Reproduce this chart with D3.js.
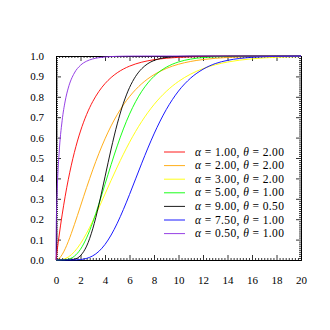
<!DOCTYPE html>
<html>
<head>
<meta charset="utf-8">
<script src="https://cdn.jsdelivr.net/npm/d3@7"></script>
<style>
  body { margin: 0; background: #fff; }
  text { font-family: "Liberation Serif", "DejaVu Serif", serif; }
</style>
</head>
<body>
<div id="chart"></div>
<script>
var xs = [0, 0.02, 0.05, 0.1, 0.25, 0.5, 0.75, 1, 1.5, 2, 2.5, 3, 3.5, 4, 4.5, 5, 5.5, 6, 6.5, 7, 7.5, 8, 8.5, 9, 9.5, 10, 11, 12, 13, 14, 16, 18, 20];

var labels = ["1.00|2.00", "2.00|2.00", "3.00|2.00", "5.00|1.00", "9.00|0.50", "7.50|1.00", "0.50|1.00"];
var colors = ["#ff0000", "#ffa500", "#ffff00", "#00ff00", "#000000", "#0000ff", "#8a2be2"];

var a1t2 = [0, 0.0100, 0.0247, 0.0488, 0.1175, 0.2212, 0.3127, 0.3935, 0.5276, 0.6321, 0.7135, 0.7769, 0.8262, 0.8647, 0.8946, 0.9179, 0.9361, 0.9502, 0.9612, 0.9698, 0.9765, 0.9817, 0.9857, 0.9889, 0.9913, 0.9933, 0.9959, 0.9975, 0.9985, 0.9991, 0.9997, 0.9999, 1.0];
var a2t2 = [0, 0, 0.0003, 0.0012, 0.0072, 0.0265, 0.0550, 0.0902, 0.1734, 0.2642, 0.3554, 0.4422, 0.5221, 0.5940, 0.6575, 0.7127, 0.7603, 0.8009, 0.8352, 0.8641, 0.8883, 0.9084, 0.9251, 0.9389, 0.9503, 0.9596, 0.9734, 0.9826, 0.9887, 0.9927, 0.9970, 0.9988, 0.9995];
var a3t2 = [0, 0, 0, 0, 0.0003, 0.0022, 0.0066, 0.0144, 0.0405, 0.0803, 0.1315, 0.1912, 0.2560, 0.3233, 0.3907, 0.4562, 0.5185, 0.5768, 0.6304, 0.6792, 0.7229, 0.7619, 0.7963, 0.8264, 0.8527, 0.8753, 0.9116, 0.9380, 0.9570, 0.9704, 0.9862, 0.9938, 0.9972];
var a5t1 = [0, 0, 0, 0, 0, 0.0002, 0.0011, 0.0037, 0.0186, 0.0527, 0.1088, 0.1847, 0.2746, 0.3712, 0.4679, 0.5595, 0.6425, 0.7149, 0.7763, 0.8270, 0.8679, 0.9004, 0.9256, 0.9450, 0.9597, 0.9707, 0.9849, 0.9924, 0.9963, 0.9982, 0.9996, 0.9999, 1.0];
var a9t05 = [0, 0, 0, 0, 0, 0, 0, 0.0002, 0.0038, 0.0214, 0.0681, 0.1528, 0.2709, 0.4075, 0.5443, 0.6672, 0.7680, 0.8450, 0.9002, 0.9379, 0.9626, 0.9780, 0.9874, 0.9929, 0.9961, 0.9979, 0.9994, 0.9998, 1.0, 1.0, 1.0, 1.0, 1.0];
var a75t1 = [0, 0, 0, 0, 0, 0, 0, 0, 0.0004, 0.0023, 0.0079, 0.0203, 0.0424, 0.0762, 0.1225, 0.1803, 0.2474, 0.3209, 0.3977, 0.4745, 0.5486, 0.6179, 0.6811, 0.7374, 0.7863, 0.8282, 0.8922, 0.9349, 0.9628, 0.9785, 0.9935, 0.9981, 0.9995];
var a05t1 = [0, 0.1585, 0.2482, 0.3453, 0.5205, 0.6827, 0.7793, 0.8427, 0.9167, 0.9545, 0.9747, 0.9857, 0.9918, 0.9953, 0.9973, 0.9984, 0.9991, 0.9995, 0.9997, 0.9998, 0.9999, 0.9999, 1.0, 1.0, 1.0, 1.0, 1.0, 1.0, 1.0, 1.0, 1.0, 1.0, 1.0];

var series = [a1t2, a2t2, a3t2, a5t1, a9t05, a75t1, a05t1];

var xTicks = [0, 2, 4, 6, 8, 10, 12, 14, 16, 18, 20];
var yTicks = [0, 0.1, 0.2, 0.3, 0.4, 0.5, 0.6, 0.7, 0.8, 0.9, 1.0];

// set the dimensions and margins of the graph
var margin = {top: 56, right: 29, bottom: 70, left: 56},
    width = 330 - margin.left - margin.right,
    height = 330 - margin.top - margin.bottom;

var svg = d3.select("#chart")
  .append("svg")
    .attr("width", 330)
    .attr("height", 330)
  .append("g")
    .attr("transform", "translate(" + margin.left + "," + margin.top + ")");

var x = d3.scaleLinear().domain([0, 20]).range([0, width]);
var y = d3.scaleLinear().domain([0, 1]).range([height, 0]);

var xMinor = d3.range(0, 20.001, 0.25).filter(function(v) { return Math.abs(v / 2 - Math.round(v / 2)) > 1e-6; });
var yMinor = d3.range(0, 1.0001, 0.01).filter(function(v) { return Math.abs(v * 10 - Math.round(v * 10)) > 1e-6; });

function styleAxis(g) {
  g.selectAll("path.domain").attr("stroke", "#000").attr("stroke-width", 1);
  g.selectAll("line").attr("stroke", "#000").attr("stroke-width", 0.8);
  g.selectAll("text").attr("font-size", 11).attr("fill", "#000").attr("font-family", "Liberation Serif, serif");
}

// minor ticks, all four sides
svg.append("g").attr("transform", "translate(0," + height + ")")
  .call(d3.axisBottom(x).tickValues(xMinor).tickSize(-2).tickSizeOuter(0).tickFormat(""))
  .call(styleAxis);
svg.append("g")
  .call(d3.axisTop(x).tickValues(xMinor).tickSize(-2).tickSizeOuter(0).tickFormat(""))
  .call(styleAxis);
svg.append("g")
  .call(d3.axisLeft(y).tickValues(yMinor).tickSize(-2).tickSizeOuter(0).tickFormat(""))
  .call(styleAxis);
svg.append("g").attr("transform", "translate(" + width + ",0)")
  .call(d3.axisRight(y).tickValues(yMinor).tickSize(-2).tickSizeOuter(0).tickFormat(""))
  .call(styleAxis);

// major ticks
svg.append("g").attr("transform", "translate(0," + height + ")")
  .call(d3.axisBottom(x).tickValues(xTicks).tickSize(-5).tickSizeOuter(0).tickPadding(16).tickFormat(d3.format("d")))
  .call(styleAxis);
svg.append("g")
  .call(d3.axisTop(x).tickValues(xTicks).tickSize(-5).tickSizeOuter(0).tickFormat(""))
  .call(styleAxis);
svg.append("g")
  .call(d3.axisLeft(y).tickValues(yTicks).tickSize(-5).tickSizeOuter(0).tickPadding(12).tickFormat(d3.format(".1f")))
  .call(styleAxis);
svg.append("g").attr("transform", "translate(" + width + ",0)")
  .call(d3.axisRight(y).tickValues(yTicks).tickSize(-5).tickSizeOuter(0).tickFormat(""))
  .call(styleAxis);

// curves
var line = d3.line()
  .x(function(d) { return x(d[0]); })
  .y(function(d) { return y(d[1]); })
  .curve(d3.curveMonotoneX);

series.forEach(function(vals, i) {
  svg.append("path")
    .datum(xs.map(function(v, j) { return [v, vals[j]]; }))
    .attr("fill", "none")
    .attr("stroke", colors[i])
    .attr("stroke-width", 0.9)
    .attr("d", line);
});

// legend
var legend = svg.append("g").attr("transform", "translate(108,96)");
labels.forEach(function(lab, i) {
  var parts = lab.split("|");
  var row = legend.append("g").attr("transform", "translate(0," + (i * 13.6) + ")");
  row.append("line")
    .attr("x1", 0).attr("x2", 21).attr("y1", 0).attr("y2", 0)
    .attr("stroke", colors[i]).attr("stroke-width", 0.9);
  var t = row.append("text").attr("x", 31).attr("y", 0).attr("dy", "0.32em")
    .attr("font-size", 11.5).attr("fill", "#000")
    .attr("textLength", 89).attr("lengthAdjust", "spacing");
  t.append("tspan").attr("font-style", "italic").text("\u03b1");
  t.append("tspan").text(" = " + parts[0] + ", ");
  t.append("tspan").attr("font-style", "italic").text("\u03b8");
  t.append("tspan").text(" = " + parts[1]);
});
</script>
</body>
</html>
